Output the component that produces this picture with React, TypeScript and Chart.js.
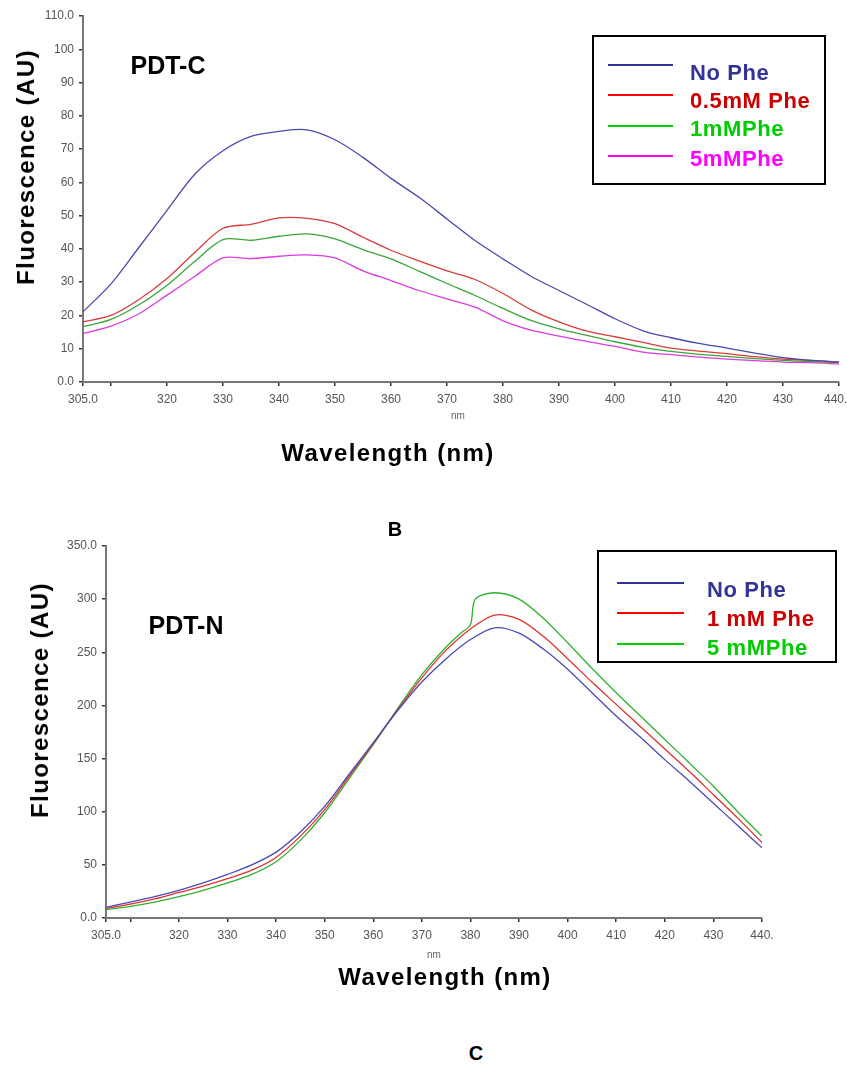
import React, { useEffect, useRef } from "react";
import { Chart, registerables } from "chart.js";

Chart.register(...registerables);

// ---------- Panel B : PDT-C ----------
const wavelengthsC = [305, 310, 315, 320, 325, 330, 335, 340, 345, 350, 355, 360, 365, 370, 375, 380, 385, 390, 395, 400, 405, 410, 415, 420, 425, 430, 435, 440];
const noPheC = [21.1, 29.5, 40.5, 51.6, 62.5, 69.5, 73.8, 75.3, 75.8, 72.8, 67.5, 61.2, 55.5, 49.0, 42.5, 37.0, 31.8, 27.5, 23.3, 19.0, 15.4, 13.3, 11.6, 10.2, 8.7, 7.3, 6.5, 6.0];
const phe05C = [18.1, 20.0, 24.8, 31.1, 39.0, 46.2, 47.4, 49.3, 49.2, 47.6, 43.5, 39.6, 36.4, 33.4, 30.8, 26.6, 21.7, 18.1, 15.3, 13.6, 11.9, 10.2, 9.3, 8.5, 7.6, 6.9, 6.5, 6.0];
const phe1C = [16.6, 18.8, 23.2, 29.1, 36.3, 42.8, 42.6, 43.8, 44.5, 43.0, 39.8, 37.0, 33.3, 29.6, 26.0, 22.1, 18.5, 16.0, 14.0, 12.1, 10.4, 9.2, 8.3, 7.7, 7.0, 6.5, 6.1, 5.8];
const phe5C = [14.6, 16.8, 20.5, 26.1, 31.8, 37.3, 37.1, 37.8, 38.2, 37.3, 33.4, 30.5, 27.5, 25.0, 22.5, 18.4, 15.6, 13.8, 12.2, 10.7, 9.0, 8.2, 7.5, 6.9, 6.4, 6.0, 5.8, 5.4];
const labelsC = ["No Phe", "0.5mM Phe", "1mMPhe", "5mMPhe"];
const yTicksC = [0, 10, 20, 30, 40, 50, 60, 70, 80, 90, 100, 110];

// ---------- Panel C : PDT-N ----------
const wavelengthsN = [305, 310, 315, 320, 325, 330, 335, 340, 345, 350, 355, 360, 365, 370, 375, 380, 385, 390, 395, 400, 405, 410, 415, 420, 425, 430, 435, 440];
const noPheN = [10, 15, 20, 26, 33, 41, 50, 62, 81, 105, 135, 165, 195, 222, 244, 262, 273, 268, 253, 234, 212, 190, 170, 149, 129, 108, 87, 66];
const phe1N = [9, 13, 18, 24, 30, 37, 45, 57, 77, 102, 133, 164, 196, 226, 252, 272, 285, 281, 265, 244, 222, 201, 180, 159, 138, 116, 94, 71];
const wavelengthsN5 = [305, 310, 315, 320, 325, 330, 335, 340, 345, 350, 355, 360, 365, 370, 375, 378, 380, 381, 385, 390, 395, 400, 405, 410, 415, 420, 425, 430, 435, 440];
const phe5N = [8, 11, 15, 20, 26, 33, 41, 53, 73, 99, 131, 163, 197, 229, 255, 268, 276, 300, 306, 300, 282, 259, 235, 212, 190, 168, 146, 124, 100, 77];
const labelsN = ["No Phe", "1 mM Phe", "5 mMPhe"];
const yTicksN = [0, 50, 100, 150, 200, 250, 300, 350];

const xTickValues = [305, 310, 320, 330, 340, 350, 360, 370, 380, 390, 400, 410, 420, 430, 440];

const FONT = "'Liberation Sans', Arial, Helvetica, sans-serif";

type Series = { label: string; xs: number[]; ys: number[]; color: string };

interface PanelProps {
  top: number;
  height: number;
  padTop: number;
  padRight: number;
  yAxisWidth: number;
  xAxisHeight: number;
  yMax: number;
  yTicks: number[];
  yTopLabel: string;
  xLastLabel: string;
  series: Series[];
}

function Panel(p: PanelProps) {
  const ref = useRef<HTMLCanvasElement | null>(null);
  useEffect(() => {
    if (!ref.current) return;
    const chart = new Chart(ref.current, {
      type: "line",
      data: {
        datasets: p.series.map((s) => ({
          label: s.label,
          data: s.xs.map((x, i) => ({ x, y: s.ys[i] })),
          borderColor: s.color,
          backgroundColor: s.color,
          borderWidth: 1.3,
          pointRadius: 0,
          tension: 0.3,
          fill: false,
        })),
      },
      options: {
        responsive: false,
        animation: false,
        layout: { padding: { top: p.padTop, right: p.padRight, left: 0, bottom: 0 } },
        plugins: { legend: { display: false }, tooltip: { enabled: false } },
        scales: {
          x: {
            type: "linear",
            min: 305,
            max: 440,
            afterBuildTicks: (s: any) => {
              s.ticks = xTickValues.map((v) => ({ value: v }));
            },
            afterFit: (s: any) => {
              s.height = p.xAxisHeight;
              s.paddingLeft = 0;
              s.paddingRight = 0;
            },
            ticks: {
              autoSkip: false,
              maxRotation: 0,
              padding: 6,
              color: "#555",
              font: { family: FONT, size: 12 },
              callback: (v: any) => {
                if (v === 305) return "305.0";
                if (v === 310) return "";
                if (v === 440) return p.xLastLabel;
                return String(v);
              },
            },
            grid: { drawOnChartArea: false, drawTicks: true, tickLength: 4, color: "#333", lineWidth: 1.5 },
            border: { display: true, color: "#777", width: 2 },
          },
          y: {
            type: "linear",
            min: 0,
            max: p.yMax,
            afterBuildTicks: (s: any) => {
              s.ticks = p.yTicks.map((v) => ({ value: v }));
            },
            afterFit: (s: any) => {
              s.width = p.yAxisWidth;
              s.paddingTop = 0;
              s.paddingBottom = 0;
            },
            ticks: {
              padding: 5,
              color: "#555",
              font: { family: FONT, size: 12 },
              callback: (v: any) => {
                if (v === 0) return "0.0";
                if (v === p.yMax) return p.yTopLabel;
                return String(v);
              },
            },
            grid: { drawOnChartArea: false, drawTicks: true, tickLength: 4, color: "#333", lineWidth: 1.5 },
            border: { display: true, color: "#777", width: 2 },
          },
        },
      },
    });
    return () => chart.destroy();
  }, []);
  return (
    <canvas
      ref={ref}
      width={847}
      height={p.height}
      style={{ position: "absolute", left: 0, top: p.top, width: 847, height: p.height }}
    />
  );
}

const abs = (x: number, y: number, extra: React.CSSProperties = {}): React.CSSProperties => ({
  position: "absolute",
  left: x,
  top: y,
  transform: "translate(-50%, -50%)",
  whiteSpace: "nowrap",
  fontFamily: FONT,
  lineHeight: 1,
  ...extra,
});

function LegendRow({ x1, x2, y, textX, textY, color, textColor, label }: any) {
  return (
    <>
      <div style={{ position: "absolute", left: x1, top: y - 1, width: x2 - x1, height: 2, background: color }} />
      <div
        style={{
          position: "absolute",
          left: textX,
          top: textY,
          transform: "translateY(-50%)",
          fontFamily: FONT,
          fontWeight: "bold",
          fontSize: 22,
          letterSpacing: 0.6,
          lineHeight: 1,
          color: textColor,
          whiteSpace: "nowrap",
        }}
      >
        {label}
      </div>
    </>
  );
}

export default function App() {
  const big: React.CSSProperties = { fontWeight: "bold", fontSize: 24, letterSpacing: 1.4, color: "#000" };
  return (
    <div style={{ position: "absolute", left: 0, top: 0, width: 847, height: 1070, background: "#fff", overflow: "hidden" }}>
      <Panel
        top={0}
        height={440}
        padTop={16}
        padRight={8}
        yAxisWidth={83}
        xAxisHeight={58}
        yMax={110}
        yTicks={yTicksC}
        yTopLabel="110.0"
        xLastLabel="440.0"
        series={[
          { label: labelsC[0], xs: wavelengthsC, ys: noPheC, color: "#4a4aae" },
          { label: labelsC[1], xs: wavelengthsC, ys: phe05C, color: "#d83c3c" },
          { label: labelsC[2], xs: wavelengthsC, ys: phe1C, color: "#3aa63a" },
          { label: labelsC[3], xs: wavelengthsC, ys: phe5C, color: "#dc3cdc" },
        ]}
      />
      <Panel
        top={530}
        height={440}
        padTop={16}
        padRight={85}
        yAxisWidth={106}
        xAxisHeight={52}
        yMax={350}
        yTicks={yTicksN}
        yTopLabel="350.0"
        xLastLabel="440."
        series={[
          { label: labelsN[0], xs: wavelengthsN, ys: noPheN, color: "#4a4ab4" },
          { label: labelsN[1], xs: wavelengthsN, ys: phe1N, color: "#e03030" },
          { label: labelsN[2], xs: wavelengthsN5, ys: phe5N, color: "#2eb02e" },
        ]}
      />

      {/* Panel B texts */}
      <div style={abs(26, 167, { ...big, transform: "translate(-50%, -50%) rotate(-90deg)" })}>Fluorescence (AU)</div>
      <div style={abs(168, 65, { fontWeight: "bold", fontSize: 25 })}>PDT-C</div>
      <div style={abs(458, 416, { fontSize: 10, color: "#666" })}>nm</div>
      <div style={abs(388, 453, big)}>Wavelength (nm)</div>
      <div style={abs(395, 529, { fontWeight: "bold", fontSize: 20 })}>B</div>
      <div style={{ position: "absolute", left: 592, top: 35, width: 230, height: 146, border: "2px solid #000" }} />
      <LegendRow x1={608} x2={673} y={65} textX={690} textY={73} color="#333399" textColor="#333399" label={labelsC[0]} />
      <LegendRow x1={608} x2={673} y={95} textX={690} textY={101} color="#ff0000" textColor="#cc0000" label={labelsC[1]} />
      <LegendRow x1={608} x2={673} y={126} textX={690} textY={129} color="#00cc00" textColor="#00cc00" label={labelsC[2]} />
      <LegendRow x1={608} x2={673} y={156} textX={690} textY={159} color="#ff00ff" textColor="#ff00ff" label={labelsC[3]} />

      {/* Panel C texts */}
      <div style={abs(40, 700, { ...big, transform: "translate(-50%, -50%) rotate(-90deg)" })}>Fluorescence (AU)</div>
      <div style={abs(186, 625, { fontWeight: "bold", fontSize: 25 })}>PDT-N</div>
      <div style={abs(434, 955, { fontSize: 10, color: "#666" })}>nm</div>
      <div style={abs(445, 977, big)}>Wavelength (nm)</div>
      <div style={abs(476, 1053, { fontWeight: "bold", fontSize: 20 })}>C</div>
      <div style={{ position: "absolute", left: 597, top: 550, width: 236, height: 109, border: "2px solid #000" }} />
      <LegendRow x1={617} x2={684} y={583} textX={707} textY={590} color="#333399" textColor="#333399" label={labelsN[0]} />
      <LegendRow x1={617} x2={684} y={613} textX={707} textY={619} color="#ff0000" textColor="#cc0000" label={labelsN[1]} />
      <LegendRow x1={617} x2={684} y={644} textX={707} textY={648} color="#00cc00" textColor="#00cc00" label={labelsN[2]} />
    </div>
  );
}
